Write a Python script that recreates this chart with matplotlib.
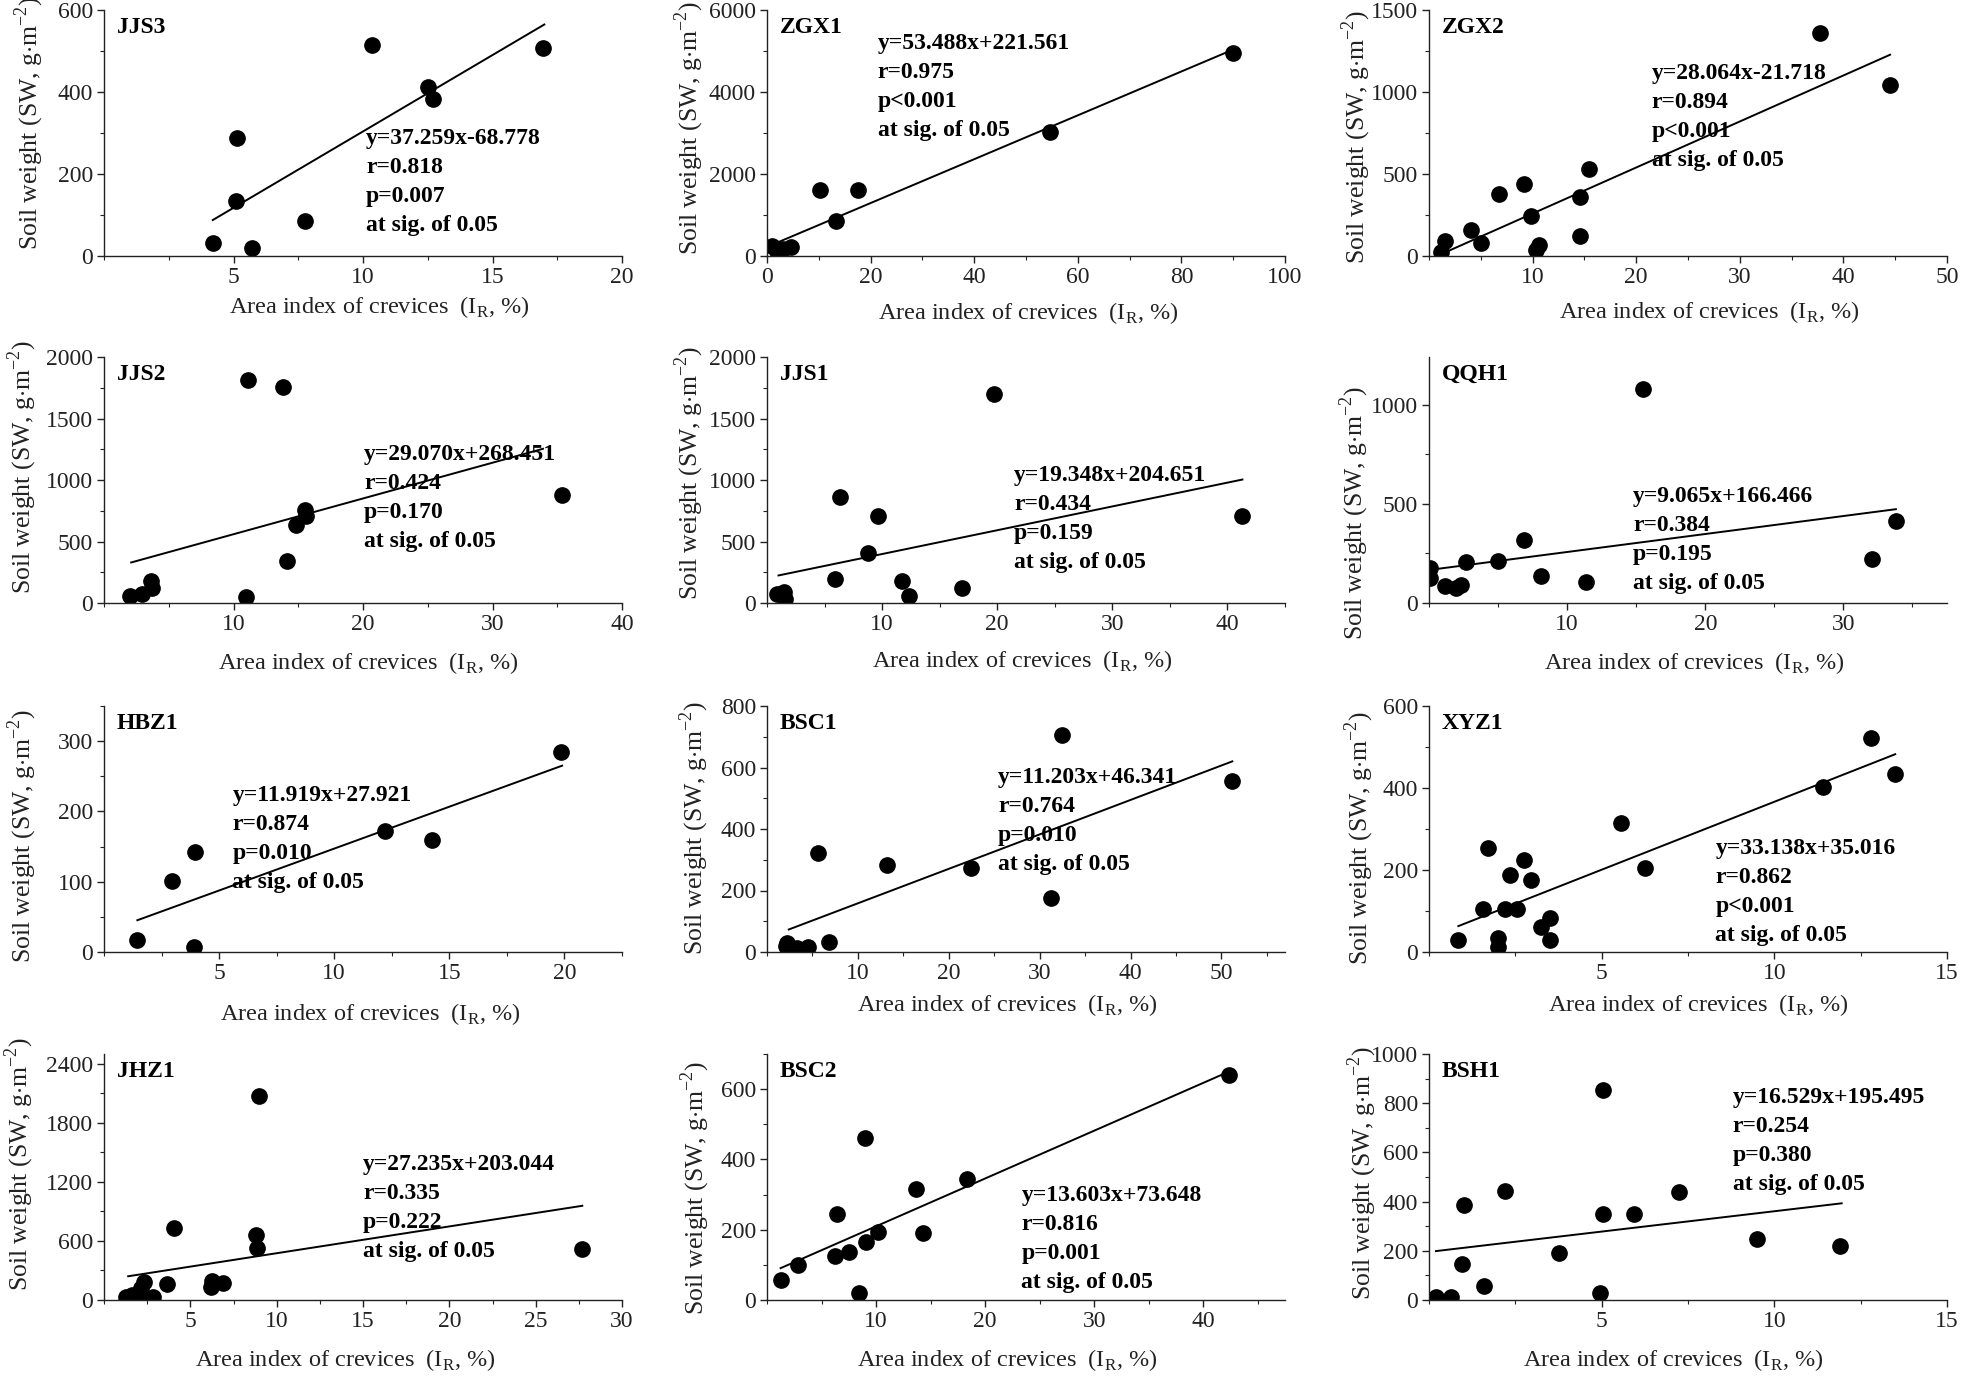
import matplotlib
matplotlib.use('Agg')
import matplotlib.pyplot as plt
from matplotlib.ticker import MultipleLocator

plt.rcParams['font.family'] = ['Liberation Serif', 'DejaVu Serif']
plt.rcParams['mathtext.fontset'] = 'custom'
plt.rcParams['mathtext.rm'] = 'Liberation Serif'

# ---- data ----
names = ['JJS3', 'ZGX1', 'ZGX2', 'JJS2', 'JJS1', 'QQH1',
         'HBZ1', 'BSC1', 'XYZ1', 'JHZ1', 'BSC2', 'BSH1']

x_jjs3 = [4.2, 5.15, 5.1, 5.7, 7.75, 10.35, 12.5, 12.7, 16.95]
y_jjs3 = [32, 287, 134, 20, 86, 514, 411, 384, 507]
x_zgx1 = [1.0, 1.5, 2.0, 3.0, 4.6, 10.2, 17.6, 13.3, 54.7, 90.0]
y_zgx1 = [250, 200, 120, 170, 220, 1610, 1610, 862, 3016, 4950]
x_zgx2 = [37.7, 44.5, 15.4, 9.2, 6.8, 14.6, 9.8, 14.6, 4.1, 5.0, 1.5, 1.2, 10.6, 10.3]
y_zgx2 = [1358, 1043, 529, 437, 378, 362, 244, 124, 159, 77, 94, 26, 67, 37]
x_jjs2 = [11.15, 13.85, 35.4, 15.5, 15.6, 14.8, 14.1, 10.95, 3.6, 3.7, 2.9, 2.0]
y_jjs2 = [1810, 1753, 875, 759, 705, 637, 344, 46, 176, 122, 76, 54]
x_jjs1 = [19.7, 6.3, 9.65, 41.3, 8.75, 5.95, 11.75, 16.95, 12.35, 0.85, 1.45, 1.6]
y_jjs1 = [1699, 862, 705, 710, 407, 195, 176, 122, 60, 76, 87, 33]
x_qqh1 = [15.5, 6.9, 33.8, 32.05, 2.7, 5.0, 8.1, 11.4, 0.1, 0.1, 1.15, 1.95, 2.3]
y_qqh1 = [1079, 320, 413, 224, 206, 214, 135, 106, 177, 126, 84, 76, 89]
x_hbz1 = [19.85, 12.2, 14.25, 3.95, 2.95, 1.45, 3.9]
y_hbz1 = [285, 172, 160, 142, 101, 17, 7]
x_bsc1 = [32.5, 51.2, 5.6, 13.2, 22.5, 31.3, 6.8, 2.2, 3.3, 4.5, 2.1]
y_bsc1 = [706, 557, 323, 282, 274, 176, 33, 29, 13, 15, 18]
x_xyz1 = [12.8, 13.5, 11.4, 5.55, 6.25, 1.7, 2.75, 2.35, 2.95, 1.55, 2.2, 2.55,
          3.5, 3.25, 3.5, 0.85, 2.0, 2.0]
y_xyz1 = [522, 433, 402, 314, 206, 253, 224, 188, 175, 106, 104, 104,
          82, 60, 30, 30, 33, 11]
x_jhz1 = [9.0, 4.05, 8.8, 8.85, 27.7, 3.65, 6.25, 6.2, 6.9, 2.3, 2.15, 1.3,
          1.65, 2.25, 2.85, 1.9]
y_jhz1 = [2069, 731, 663, 527, 520, 163, 194, 136, 170, 187, 119, 34,
          51, 34, 34, 17]
x_bsc2 = [42.4, 8.95, 18.35, 13.7, 6.45, 10.2, 14.3, 9.05, 6.25, 7.5, 2.85, 1.25, 8.45]
y_bsc2 = [640, 460, 344, 317, 244, 193, 191, 165, 124, 137, 100, 57, 21]
x_bsh1 = [5.05, 2.2, 7.25, 1.0, 5.05, 5.95, 9.5, 11.9, 3.75, 0.95, 1.6, 4.95, 0.2, 0.65]
y_bsh1 = [853, 443, 437, 386, 351, 348, 246, 218, 191, 147, 57, 27, 14, 14]

xs = [x_jjs3, x_zgx1, x_zgx2, x_jjs2, x_jjs1, x_qqh1,
      x_hbz1, x_bsc1, x_xyz1, x_jhz1, x_bsc2, x_bsh1]
ys = [y_jjs3, y_zgx1, y_zgx2, y_jjs2, y_jjs1, y_qqh1,
      y_hbz1, y_bsc1, y_xyz1, y_jhz1, y_bsc2, y_bsh1]

slopes = [37.259, 53.488, 28.064, 29.070, 19.348, 9.065,
          11.919, 11.203, 33.138, 27.235, 13.603, 16.529]
intercepts = [-68.778, 221.561, -21.718, 268.451, 204.651, 166.466,
              27.921, 46.341, 35.016, 203.044, 73.648, 195.495]
r_values = ['0.818', '0.975', '0.894', '0.424', '0.434', '0.384',
            '0.874', '0.764', '0.862', '0.335', '0.816', '0.254']
p_texts = ['p=0.007', 'p<0.001', 'p<0.001', 'p=0.170', 'p=0.159', 'p=0.195',
           'p=0.010', 'p=0.010', 'p<0.001', 'p=0.222', 'p=0.001', 'p=0.380']

# fitted line extent
fit_start = [4.2, 1.0, 1.2, 2.1, 1.0, 0.0, 1.45, 2.4, 0.85, 1.4, 1.25, 0.2]
fit_end = [17.0, 90.0, 44.5, 33.9, 41.3, 33.8, 19.9, 51.2, 13.5, 27.7, 42.4, 11.95]

# axis settings
xlims = [20, 100, 50, 40, 45, 37.5, 22.5, 57, 15, 30, 47.5, 15]
xmajor = [[5, 10, 15, 20], [0, 20, 40, 60, 80, 100], [10, 20, 30, 40, 50],
          [10, 20, 30, 40], [10, 20, 30, 40], [10, 20, 30],
          [5, 10, 15, 20], [10, 20, 30, 40, 50], [5, 10, 15],
          [5, 10, 15, 20, 25, 30], [10, 20, 30, 40], [5, 10, 15]]
xminor = [2.5, 10, 5, 5, 5, 5, 2.5, 5, 2.5, 2.5, 5, 2.5]
ylims = [600, 6000, 1500, 2000, 2000, 1240, 350, 800, 600, 2500, 700, 1000]
ymajor = [200, 2000, 500, 500, 500, 500, 100, 200, 200, 600, 200, 200]
yminor = [100, 1000, 250, 250, 250, 250, 50, 100, 100, 300, 100, 100]

# annotation block position (axes fraction: left, vertical centre)
ann_x = [0.506, 0.214, 0.43, 0.502, 0.477, 0.394, 0.248, 0.446, 0.553, 0.50, 0.491, 0.586]
ann_y = [0.302, 0.688, 0.564, 0.427, 0.341, 0.258, 0.46, 0.531, 0.245, 0.372, 0.246, 0.647]
# axis label centres (axes fraction)
ylab_x = [-0.145, -0.151, -0.141, -0.157, -0.151, -0.145,
          -0.157, -0.141, -0.135, -0.163, -0.139, -0.129]
ylab_y = [0.54, 0.519, 0.485, 0.553, 0.53, 0.367, 0.47, 0.506, 0.465, 0.553, 0.457, 0.518]
xlab_x = [0.532, 0.504, 0.54, 0.51, 0.493, 0.512, 0.513, 0.463, 0.519, 0.466, 0.464, 0.471]
xlab_y = [-0.206, -0.233, -0.226, -0.244, -0.237, -0.245,
          -0.252, -0.215, -0.215, -0.246, -0.246, -0.246]

W, H = 1962, 1378
fig = plt.figure(figsize=(W / 100, H / 100), dpi=100)

col_left = [104, 767, 1429]
row_top = [10, 357, 706, 1054]
aw, ah = 518, 246

for i in range(12):
    r, c = divmod(i, 3)
    ax = fig.add_axes([col_left[c] / W, (H - row_top[r] - ah) / H, aw / W, ah / H])

    ax.plot(xs[i], ys[i], 'o', color='black', markersize=11)
    lx = [fit_start[i], fit_end[i]]
    ly = [slopes[i] * v + intercepts[i] for v in lx]
    ax.plot(lx, ly, '-', color='black', linewidth=1.4)

    ax.set_xlim(0, xlims[i])
    ax.set_xticks(xmajor[i])
    ax.xaxis.set_minor_locator(MultipleLocator(xminor[i]))
    ax.yaxis.set_major_locator(MultipleLocator(ymajor[i]))
    ax.yaxis.set_minor_locator(MultipleLocator(yminor[i]))
    ax.set_ylim(0, ylims[i])

    ax.spines['top'].set_visible(False)
    ax.spines['right'].set_visible(False)
    for s in ['left', 'bottom']:
        ax.spines[s].set_linewidth(1.0)
        ax.spines[s].set_color('#222222')
    ax.tick_params(which='major', direction='out', length=5, width=1,
                   labelsize=17, colors='#222222', pad=3)
    ax.tick_params(which='minor', direction='out', length=3, width=0.8, colors='#222222')

    ax.set_ylabel(r'Soil weight (SW, g$\cdot$m$^{\mathregular{-2}}$)', fontsize=18.5,
                  color='#222222')
    ax.set_xlabel(r'Area index of crevices$\enspace$(I$_{\mathregular{R}}$, %)', fontsize=17.5,
                  color='#222222')
    ax.yaxis.set_label_coords(ylab_x[i], ylab_y[i])
    ax.xaxis.set_label_coords(xlab_x[i], xlab_y[i])
    ax.xaxis.label.set_va('center')
    ax.yaxis.label.set_va('center')

    ax.text(0.025, 0.93, names[i], transform=ax.transAxes, fontsize=17,
            fontweight='bold', va='center', ha='left')
    eq = 'y=%.3fx%+.3f' % (slopes[i], intercepts[i])
    block = eq + '\nr=' + r_values[i] + '\n' + p_texts[i] + '\nat sig. of 0.05'
    ax.text(ann_x[i], ann_y[i], block, transform=ax.transAxes, fontsize=17,
            fontweight='bold', va='center', ha='left', linespacing=1.5)

fig.savefig('out.png', dpi=100, facecolor='w')
plt.close()
